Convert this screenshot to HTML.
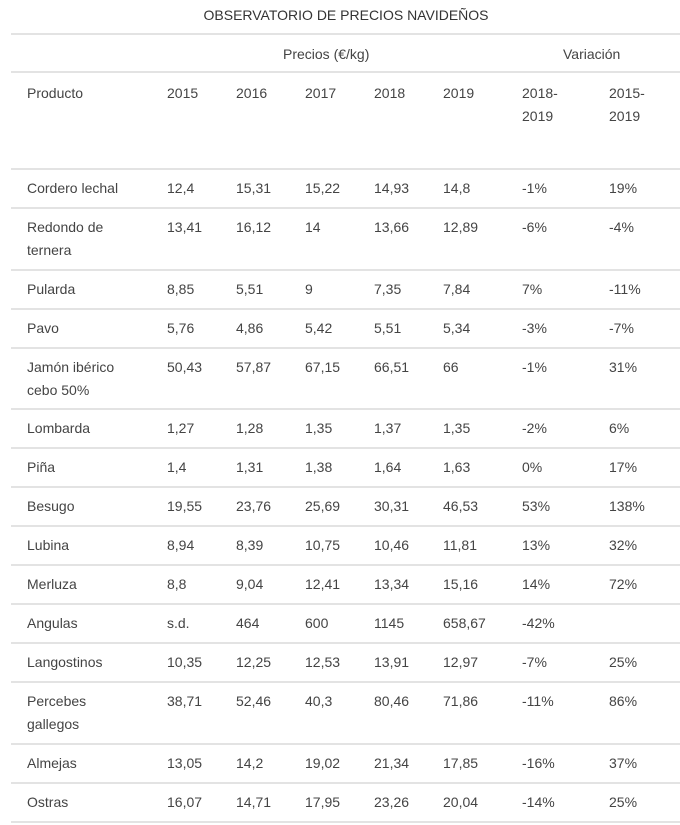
<!DOCTYPE html>
<html><head><meta charset="utf-8"><style>
body{margin:0;background:#fff;width:680px;height:825px;position:relative;overflow:hidden;font-family:"Liberation Sans",sans-serif;font-size:14px;color:#444;}
.l{position:absolute;left:11px;width:669px;height:1.5px;background:#e3e3e3;}
.t{position:absolute;line-height:23px;white-space:nowrap;}
</style></head><body>
<div class="t" style="left:0;width:692px;text-align:center;top:4px;color:#333">OBSERVATORIO DE PRECIOS NAVIDEÑOS</div>
<div class="l" style="top:33px"></div>
<div class="t" style="left:283px;top:43px">Precios (€/kg)</div>
<div class="t" style="left:563px;top:43px">Variación</div>
<div class="l" style="top:71px"></div>
<div class="t" style="left:27px;top:82px">Producto</div>
<div class="t" style="left:167px;top:82px">2015</div>
<div class="t" style="left:236px;top:82px">2016</div>
<div class="t" style="left:305px;top:82px">2017</div>
<div class="t" style="left:374px;top:82px">2018</div>
<div class="t" style="left:443px;top:82px">2019</div>
<div class="t" style="left:522px;top:82px">2018-<br>2019</div>
<div class="t" style="left:609px;top:82px">2015-<br>2019</div>
<div id="rows"></div>
<script>
var d=[["Cordero lechal","12,4","15,31","15,22","14,93","14,8","-1%","19%"],
["Redondo de<br>ternera","13,41","16,12","14","13,66","12,89","-6%","-4%"],
["Pularda","8,85","5,51","9","7,35","7,84","7%","-11%"],
["Pavo","5,76","4,86","5,42","5,51","5,34","-3%","-7%"],
["Jamón ibérico<br>cebo 50%","50,43","57,87","67,15","66,51","66","-1%","31%"],
["Lombarda","1,27","1,28","1,35","1,37","1,35","-2%","6%"],
["Piña","1,4","1,31","1,38","1,64","1,63","0%","17%"],
["Besugo","19,55","23,76","25,69","30,31","46,53","53%","138%"],
["Lubina","8,94","8,39","10,75","10,46","11,81","13%","32%"],
["Merluza","8,8","9,04","12,41","13,34","15,16","14%","72%"],
["Angulas","s.d.","464","600","1145","658,67","-42%",""],
["Langostinos","10,35","12,25","12,53","13,91","12,97","-7%","25%"],
["Percebes<br>gallegos","38,71","52,46","40,3","80,46","71,86","-11%","86%"],
["Almejas","13,05","14,2","19,02","21,34","17,85","-16%","37%"],
["Ostras","16,07","14,71","17,95","23,26","20,04","-14%","25%"]];
var xs=[27,167,236,305,374,443,522,609],y=168,h='<div class="l" style="top:168px"></div>';
d.forEach(function(r){var two=r[0].indexOf('<br>')>=0,H=two?61.5:39;
r.forEach(function(c,i){h+='<div class="t" style="left:'+xs[i]+'px;top:'+(y+9)+'px">'+c+'</div>';});
y+=H;h+='<div class="l" style="top:'+Math.round(y)+'px"></div>';});
document.getElementById('rows').innerHTML=h;
</script>
</body></html>
